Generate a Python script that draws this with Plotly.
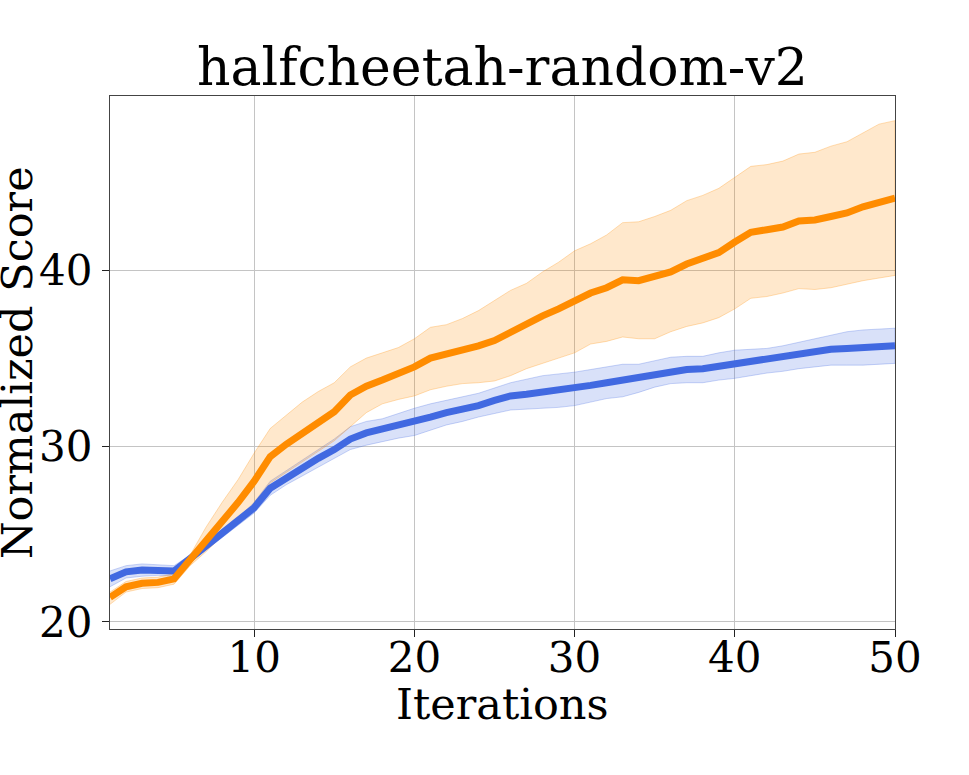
import plotly.graph_objects as go

# iteracoes 1..50
iteracoes = list(range(1, 51))

# curva laranja (media e banda)
laranja_media = [21.4, 22.0, 22.2, 22.25, 22.45, 23.5, 24.6, 25.7, 26.8, 28.0,
                 29.4, 30.1, 30.75, 31.4, 31.95, 32.9, 33.4, 33.75, 34.1, 34.5,
                 35.0, 35.2, 35.45, 35.7, 36.0, 36.5, 36.9, 37.4, 37.8, 38.3,
                 38.7, 39.0, 39.45, 39.4, 39.6, 39.9, 40.35, 40.65, 41.0, 41.6,
                 42.15, 42.3, 42.45, 42.8, 42.85, 43.05, 43.25, 43.6, 43.9, 44.1]
laranja_sup = [21.7, 22.3, 22.5, 22.55, 22.75, 23.8, 25.4, 26.8, 28.1, 29.6,
               31.0, 31.75, 32.5, 33.1, 33.6, 34.5, 35.0, 35.3, 35.6, 36.1,
               36.75, 36.9, 37.25, 37.7, 38.3, 38.85, 39.25, 39.9, 40.45, 41.1,
               41.5, 42.0, 42.7, 42.75, 43.05, 43.4, 43.95, 44.25, 44.65, 45.3,
               45.9, 46.0, 46.2, 46.6, 46.7, 47.05, 47.3, 47.8, 48.3, 48.5]
laranja_inf = [21.0, 21.7, 21.9, 21.95, 22.15, 23.2, 24.0, 24.9, 25.8, 26.7,
               27.9, 28.5, 29.1, 29.7, 30.3, 31.1, 31.9, 32.4, 32.65, 32.85,
               33.2, 33.4, 33.55, 33.6, 33.7, 34.0, 34.4, 34.7, 35.0, 35.3,
               35.8, 35.95, 36.2, 36.1, 36.1, 36.5, 36.8, 37.0, 37.3, 37.8,
               38.4, 38.5, 38.7, 38.95, 38.9, 39.0, 39.2, 39.4, 39.55, 39.7]

# curva azul (media e banda)
azul_media = [22.45, 22.85, 22.95, 22.95, 22.9, 23.6, 24.3, 25.0, 25.7, 26.5,
              27.6, 28.2, 28.75, 29.3, 29.8, 30.4, 30.75, 30.95, 31.15, 31.35,
              31.65, 31.9, 32.05, 32.3, 32.6, 32.85, 32.95, 33.05, 33.15, 33.3,
              33.45, 33.6, 33.75, 33.85, 34.1, 34.25, 34.35, 34.4, 34.55, 34.65,
              34.8, 34.95, 35.05, 35.25, 35.35, 35.5, 35.55, 35.6, 35.65, 35.7]
azul_sup = [22.9, 23.2, 23.3, 23.25, 23.2, 23.8, 24.5, 25.2, 25.9, 26.8,
            28.0, 28.6, 29.2, 29.8, 30.4, 31.1, 31.4, 31.55, 31.85, 32.15,
            32.4, 32.6, 32.8, 33.0, 33.3, 33.6, 33.8, 34.0, 34.1, 34.2,
            34.35, 34.5, 34.65, 34.65, 34.85, 35.05, 35.1, 35.1, 35.3, 35.45,
            35.5, 35.55, 35.7, 35.9, 36.1, 36.3, 36.5, 36.6, 36.65, 36.7]
azul_inf = [22.0, 22.5, 22.6, 22.65, 22.6, 23.4, 24.1, 24.8, 25.5, 26.2,
            27.2, 27.8, 28.3, 28.8, 29.3, 29.8, 30.05, 30.25, 30.45, 30.6,
            30.9, 31.2, 31.4, 31.65, 31.85, 32.05, 32.1, 32.15, 32.2, 32.3,
            32.5, 32.7, 32.8, 33.05, 33.35, 33.55, 33.6, 33.6, 33.75, 33.85,
            34.0, 34.15, 34.25, 34.4, 34.5, 34.6, 34.6, 34.6, 34.65, 34.7]

fonte = "DejaVu Serif"

fig = go.Figure()

# bandas (poligono fechado: superior ida, inferior volta)
for sup, inf, cor in [(azul_sup, azul_inf, "65,105,225"), (laranja_sup, laranja_inf, "255,140,0")]:
    fig.add_trace(go.Scatter(
        x=iteracoes + iteracoes[::-1], y=sup + inf[::-1],
        fill="toself", fillcolor="rgba(%s,0.2)" % cor,
        line=dict(color="rgba(%s,0.28)" % cor, width=1),
        mode="lines", hoverinfo="skip", showlegend=False))

fig.add_trace(go.Scatter(x=iteracoes, y=azul_media, mode="lines",
                         line=dict(color="#4169E1", width=7), showlegend=False))
fig.add_trace(go.Scatter(x=iteracoes, y=laranja_media, mode="lines",
                         line=dict(color="#FF8C00", width=7), showlegend=False))

eixo = dict(showline=True, mirror=True, linecolor="#444", linewidth=1.3,
            ticks="outside", ticklen=7, tickcolor="#222", tickwidth=1.2,
            showgrid=True, gridcolor="#c4c4c4", gridwidth=1.3, zeroline=False,
            automargin=False,
            tickfont=dict(family=fonte, size=42, color="black"))

fig.update_xaxes(range=[1, 50], tickvals=[10, 20, 30, 40, 50], ticklabelstandoff=-16, **eixo)
fig.update_yaxes(range=[19.6, 49.9], tickvals=[20, 30, 40], ticklabelstandoff=1, **eixo)

# titulos dos eixos como anotacoes para posicionar com precisao
fig.add_annotation(text="Iterations", xref="paper", yref="paper", x=0.5, y=-0.1407,
                   xanchor="center", yanchor="middle", showarrow=False,
                   font=dict(family=fonte, size=43, color="black"))
fig.add_annotation(text="Normalized Score", xref="paper", yref="paper", x=-0.119, y=0.5,
                   xanchor="center", yanchor="middle", showarrow=False, textangle=-90,
                   font=dict(family=fonte, size=43, color="black"))

fig.update_layout(
    width=969, height=775,
    margin=dict(l=110, r=74, t=96, b=146),
    paper_bgcolor="white", plot_bgcolor="white",
    title=dict(text="halfcheetah-random-v2", x=0.5, xref="paper", xanchor="center",
               y=0.9135, yanchor="middle", yref="container",
               font=dict(family=fonte, size=52, color="black")),
)

# tira a margem padrao do body para a figura ocupar a janela inteira
fig.write_html("out.html", config={"displayModeBar": False},
               post_script="document.body.style.margin='0';")
